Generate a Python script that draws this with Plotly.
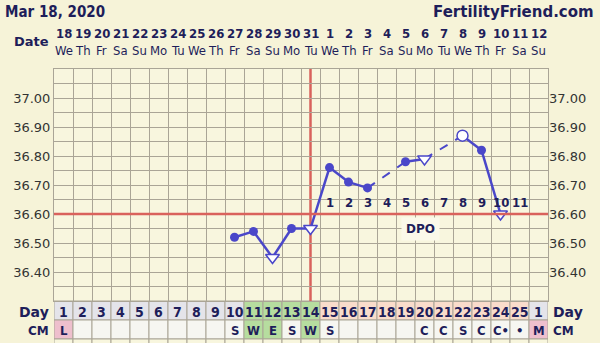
import plotly.graph_objects as go

# ---- data ----
dates = ["18","19","20","21","22","23","24","25","26","27","28","29","30","31",
         "1","2","3","4","5","6","7","8","9","10","11","12"]
weekdays = ["We","Th","Fr","Sa","Su","Mo","Tu","We","Th","Fr","Sa","Su","Mo","Tu",
            "We","Th","Fr","Sa","Su","Mo","Tu","We","Th","Fr","Sa","Su"]
cycle_days = [str(d) for d in range(1, 26)] + ["1"]
cm = ["L","","","","","","","","","S","W","E","S","W","S","","","","","C","C","S","C","C\u2022","\u2022","M"]
cm_green = [11, 12, 14]
cm_pink = [1, 26]

temp_days = [10, 11, 12, 13, 14, 15, 16, 17, 19, 20, 22, 23, 24]
temps = [36.52, 36.54, 36.45, 36.55, 36.55, 36.76, 36.71, 36.69, 36.78, 36.79, 36.87, 36.82, 36.60]
marker_kind = ["f","f","t","f","t","f","f","f","f","t","o","f","t"]

dpo_days = [15,16,17,18,19,20,21,22,23,24,25]
dpo_labels = ["1","2","3","4","5","6","7","8","9","10","11"]
dpo_y = 36.638

coverline = 36.60
ovulation_day = 14

ymin, ymax = 36.30, 37.10
ytick_vals = [round(ymin + 0.05 * i, 2) for i in range(17)]
ytick_text = [("%.2f" % v) if (abs(round(v * 10) - v * 10) < 1e-6 and 36.39 < v < 37.01) else "" for v in ytick_vals]

# ---- style ----
W, H = 600, 343
NAVY = "#1e1e5a"
BLUE = "#4a47c9"
RED = "#d9625c"
GRID = "#aaa596"
PAPER = "#f6f3d8"
PLOT = "#f8f6de"
FONT = "DejaVu Sans"
COND = "DejaVu Sans Condensed, DejaVu Sans"

x0px, x1px = 54, 548
ytop, ybot = 69, 301

def py(p):
    return 1 - p / H

fig = go.Figure()

n = len(temp_days)
solid_x, solid_y, dash_x, dash_y = [], [], [], []
for i in range(n - 1):
    a, b = temp_days[i], temp_days[i + 1]
    if b - a == 1:
        solid_x += [a, b, None]; solid_y += [temps[i], temps[i + 1], None]
    else:
        dash_x += [a, b, None]; dash_y += [temps[i], temps[i + 1], None]

fig.add_trace(go.Scatter(x=solid_x, y=solid_y, mode="lines",
                         line=dict(color=BLUE, width=2.5), hoverinfo="skip"))
fig.add_trace(go.Scatter(x=dash_x, y=dash_y, mode="lines",
                         line=dict(color=BLUE, width=2, dash="dash"), hoverinfo="skip"))

def pick(kind):
    xs = [d for d, k in zip(temp_days, marker_kind) if k == kind]
    ys = [t for t, k in zip(temps, marker_kind) if k == kind]
    return xs, ys

xs, ys = pick("f")
fig.add_trace(go.Scatter(x=xs, y=ys, mode="markers",
                         marker=dict(symbol="circle", size=9, color=BLUE, line=dict(width=0))))
xs, ys = pick("t")
fig.add_trace(go.Scatter(x=xs, y=ys, mode="markers",
                         marker=dict(symbol="triangle-down", size=12, color="white",
                                     line=dict(color=BLUE, width=1.5))))
xs, ys = pick("o")
fig.add_trace(go.Scatter(x=xs, y=ys, mode="markers",
                         marker=dict(symbol="circle", size=11, color="white",
                                     line=dict(color=BLUE, width=1.5))))
fig.add_trace(go.Scatter(x=[None], y=[None], yaxis="y2", showlegend=False))

shapes = []
shapes.append(dict(type="line", xref="paper", yref="y", x0=x0px / W, x1=x1px / W,
                   y0=coverline, y1=coverline, line=dict(color=RED, width=2.5), layer="above"))
shapes.append(dict(type="line", xref="x", yref="y", x0=ovulation_day, x1=ovulation_day,
                   y0=ymin, y1=ymax, line=dict(color=RED, width=2.5), layer="below"))

day_top, day_bot, cm_bot, last_bot = 301, 320, 339, 360
annotations = []

def ann(**kw):
    kw.setdefault("showarrow", False)
    kw.setdefault("yanchor", "middle")
    kw.setdefault("xanchor", "center")
    annotations.append(kw)

for i in range(26):
    d = i + 1
    if d <= 10 or d == 26:
        dc = "#e4e4ea"
    elif d <= 14:
        dc = "#b6dd9f"
    else:
        dc = "#f9dccb"
    if d in cm_pink:
        cc = "#eebfcd"
    elif d in cm_green:
        cc = "#b6dd9f"
    else:
        cc = "#f6f6f1"
    shapes.append(dict(type="rect", xref="x", yref="paper", x0=d - 0.5, x1=d + 0.5,
                       y0=py(day_bot), y1=py(day_top), fillcolor=dc,
                       line=dict(color=GRID, width=1), layer="below"))
    shapes.append(dict(type="rect", xref="x", yref="paper", x0=d - 0.5, x1=d + 0.5,
                       y0=py(cm_bot), y1=py(day_bot), fillcolor=cc,
                       line=dict(color=GRID, width=1), layer="below"))
    shapes.append(dict(type="rect", xref="x", yref="paper", x0=d - 0.5, x1=d + 0.5,
                       y0=py(last_bot), y1=py(cm_bot), fillcolor=PLOT,
                       line=dict(color=GRID, width=1), layer="below"))
    ann(x=d, y=py((day_top + day_bot) / 2 + 1), xref="x", yref="paper",
        text="<b>%s</b>" % cycle_days[i], font=dict(family=COND, size=14, color=NAVY))
    if cm[i]:
        ann(x=d, y=py((day_bot + cm_bot) / 2 + 1), xref="x", yref="paper",
            text="<b>%s</b>" % cm[i], font=dict(family=COND, size=13, color=NAVY))
    ann(x=d, y=py(33), xref="x", yref="paper",
        text="<b>%s</b>" % dates[i], font=dict(family=COND, size=13, color=NAVY))
    ann(x=d, y=py(50), xref="x", yref="paper",
        text=weekdays[i], font=dict(family=COND, size=13, color=NAVY))

for d, t in zip(dpo_days, dpo_labels):
    ann(x=d, y=dpo_y, xref="x", yref="y", text="<b>%s</b>" % t,
        font=dict(family=COND, size=13, color=NAVY))
ann(x=19.8, y=36.548, xref="x", yref="y", text="<b>DPO</b>",
    bgcolor="#fbf9ea", borderpad=4, font=dict(family=FONT, size=12, color=NAVY))

for txt, yy in [("Day", (day_top + day_bot) / 2 + 1), ("CM", (day_bot + cm_bot) / 2 + 1)]:
    sz = 14 if txt == "Day" else 12
    ann(x=51 / W, y=py(yy), xref="paper", yref="paper", text="<b>%s</b>" % txt,
        xanchor="right", font=dict(family=FONT, size=sz, color=NAVY))
    ann(x=551 / W, y=py(yy), xref="paper", yref="paper", text="<b>%s</b>" % txt,
        xanchor="left", font=dict(family=FONT, size=sz, color=NAVY))
ann(x=51 / W, y=py(41), xref="paper", yref="paper", text="<b>Date</b>",
    xanchor="right", font=dict(family=FONT, size=13, color=NAVY))
ann(x=3 / W, y=py(12), xref="paper", yref="paper", text="<b>Mar 18, 2020</b>",
    xanchor="left", font=dict(family=COND, size=15, color=NAVY))
ann(x=596 / W, y=py(12), xref="paper", yref="paper", text="<b>FertilityFriend.com</b>",
    xanchor="right", font=dict(family=FONT, size=15, color=NAVY))

axis_common = dict(range=[ymin, ymax], tickmode="array", tickvals=ytick_vals, ticktext=ytick_text,
                   showgrid=True, gridcolor=GRID, gridwidth=1, zeroline=False,
                   tickfont=dict(family=FONT, size=13, color="#333333"), ticks="",
                   fixedrange=True)

fig.update_layout(
    width=W, height=H, margin=dict(l=0, r=0, t=0, b=0),
    paper_bgcolor=PAPER, plot_bgcolor=PLOT, showlegend=False,
    xaxis=dict(range=[0.5, 26.5], domain=[x0px / W, x1px / W], tickmode="array",
               tickvals=[i + 0.5 for i in range(27)], showticklabels=False, showgrid=True,
               gridcolor=GRID, gridwidth=1, zeroline=False, showline=True, linecolor=GRID,
               mirror=True, ticks=""),
    yaxis=dict(side="left", showline=True, linecolor=GRID, mirror=True,
               domain=[py(ybot), py(ytop)], **axis_common),
    yaxis2=dict(side="right", overlaying="y", showline=False, **axis_common),
    shapes=shapes, annotations=annotations,
)

fig.write_html("out.html")
